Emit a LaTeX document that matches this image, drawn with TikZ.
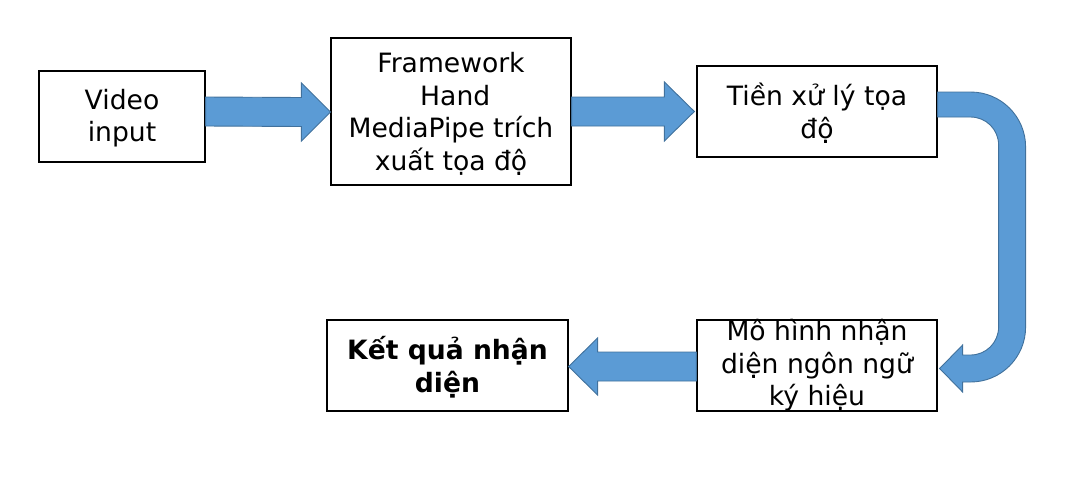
\documentclass[tikz,border=0pt]{standalone}
\usepackage{fontspec}
\setmainfont{DejaVu Sans}
\usetikzlibrary{calc}
\definecolor{arrowfill}{HTML}{5B9BD5}
\definecolor{arrowline}{HTML}{41719C}
\tikzset{
  box/.style={draw=black, line width=1.2pt, fill=white, inner sep=0pt},
  txt/.style={align=center, inner sep=0pt, font=\fontsize{26.6}{32.5}\selectfont},
  blockarrow/.style={fill=arrowfill, draw=arrowline, line width=0.9pt, line join=miter}
}
\begin{document}
\begin{tikzpicture}[x=1pt, y=-1pt]
\useasboundingbox (0,0) rectangle (1091,483);
% boxes
\node[box, minimum width=166pt, minimum height=91pt] (b1) at (122,116.5) {};
\node[box, minimum width=240pt, minimum height=147pt] (b2) at (451,111.5) {};
\node[box, minimum width=240pt, minimum height=91pt] (b3) at (817,111.5) {};
\node[box, minimum width=240pt, minimum height=91pt] (b4) at (817,365.5) {};
\node[box, minimum width=241pt, minimum height=91pt] (b5) at (447.5,365.5) {};
% texts
\node[txt] (t1) at ($(b1)+(0,1.5)$) {Video\\input};
\node[txt] (t2) at ($(b2)+(0,2.5)$) {Framework\\\hspace*{0.318em}Hand\\MediaPipe trích\\xuất tọa độ};
\node[txt] (t3) at ($(b3)+(0,1.5)$) {Tiền xử lý tọa\\độ};
\node[txt] (t4) at (b4) {Mô hình nhận\\diện ngôn ngữ\\ký hiệu};
\node[txt, font=\fontsize{26.6}{32.5}\selectfont\bfseries] (t5) at ($(b5)+(0,1.5)$) {Kết quả nhận\\diện};
% arrow 1
\coordinate (a1s) at (b1.east |- b2.west);
\coordinate (a1t) at ($(b2.west)+(0,0.5)$);
\draw[blockarrow] ($(a1s)+(0,-14.5)$) -- ($(a1t)+(-29,-14.5)$) -- ($(a1t)+(-29,-29)$) -- (a1t)
  -- ($(a1t)+(-29,29)$) -- ($(a1t)+(-29,14.5)$) -- ($(a1s)+(0,14.5)$) -- cycle;
% arrow 2
\coordinate (a2s) at (b2.east);
\coordinate (a2t) at ($(b3.west)+(-2,0)$);
\draw[blockarrow] ($(a2s)+(0,-14.5)$) -- ($(a2t)+(-30,-14.5)$) -- ($(a2t)+(-30,-29.5)$) -- (a2t)
  -- ($(a2t)+(-30,29.5)$) -- ($(a2t)+(-30,14.5)$) -- ($(a2s)+(0,14.5)$) -- cycle;
% arrow 3 (leftwards)
\coordinate (a3s) at ($(b4.west)+(0,1)$);
\coordinate (a3t) at ($(b5.east)+(0,1)$);
\draw[blockarrow] ($(a3s)+(0,-14.5)$) -- ($(a3t)+(29,-14.5)$) -- ($(a3t)+(29,-28.5)$) -- (a3t)
  -- ($(a3t)+(29,28.5)$) -- ($(a3t)+(29,14.5)$) -- ($(a3s)+(0,14.5)$) -- cycle;
% U-turn arrow
\coordinate (T) at (b3.east);
\coordinate (B) at (b4.east);
\draw[blockarrow]
  ($(T)+(0,-19.5)$) -- ($(T)+(33,-19.5)$)
  .. controls ($(T)+(63.4,-19.5)$) and ($(T)+(88,5.1)$) .. ($(T)+(88,35.5)$)
  -- ($(B)+(88,-38.5)$)
  .. controls ($(B)+(88,-8.1)$) and ($(B)+(63.4,16.5)$) .. ($(B)+(33,16.5)$)
  -- ($(B)+(25,16.5)$) -- ($(B)+(25,26.5)$) -- ($(B)+(2,3)$)
  -- ($(B)+(25,-20.5)$) -- ($(B)+(25,-10.5)$) -- ($(B)+(33,-10.5)$)
  .. controls ($(B)+(48.5,-10.5)$) and ($(B)+(61,-23)$) .. ($(B)+(61,-38.5)$)
  -- ($(T)+(61,33.5)$)
  .. controls ($(T)+(61,18)$) and ($(T)+(48.5,5.5)$) .. ($(T)+(33,5.5)$)
  -- ($(T)+(0,5.5)$) -- cycle;
\end{tikzpicture}
\end{document}
